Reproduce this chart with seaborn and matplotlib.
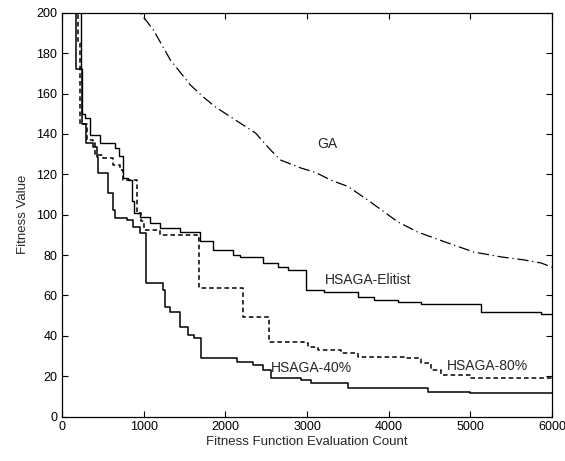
import matplotlib
matplotlib.use("Agg")
import matplotlib.pyplot as plt
import seaborn as sns
import pandas as pd

# GA curve (dash-dot)
ga_x = [900, 957, 1117, 1325, 1570, 1730, 1877, 2123, 2368, 2552, 2675, 2920, 3100, 3300,
        3500, 3742, 4110, 4356, 4724, 5043, 5374, 5656, 5865, 6000]
ga_y = [210, 200, 191.6, 176.7, 164.3, 158.3, 153.4, 146.9, 140.5, 132.1, 127.1, 123.2, 121,
        117, 114, 107.3, 96.5, 91.4, 86, 81.5, 79.1, 77.6, 76.1, 74]

# HSAGA-Elitist (solid, step)
el_x = [0, 230, 245, 282, 344, 466, 650, 700, 745, 810, 850, 875, 957, 1080, 1202, 1448,
        1693, 1853, 2098, 2184, 2466, 2638, 2761, 2982, 3202, 3620, 3816, 4110, 4393, 5129,
        5865, 6000]
el_y = [230, 172, 150, 148, 139.5, 135.5, 133, 129, 118, 117, 107, 101, 99, 96, 93.4, 91.5,
        87, 82.5, 80, 79, 76, 74, 72.6, 62.7, 61.5, 59.2, 57.7, 56.7, 55.8, 51.8, 51, 50.5]

# HSAGA-80% (dotted, step)
h80_x = [0, 200, 221, 307, 380, 405, 503, 626, 712, 748, 920, 960, 1000, 1202, 1656, 1680,
         2210, 2528, 2957, 3006, 3129, 3411, 3620, 4184, 4393, 4515, 4638, 5000, 6000]
h80_y = [230, 185, 145, 137, 135.5, 129.6, 128, 124.6, 122, 117, 100.6, 97, 92.4, 90, 88.4,
         63.7, 49.4, 36.9, 36.4, 34.5, 33, 31.4, 29.5, 29, 26.5, 23, 20.6, 19, 19]

# HSAGA-40% (solid, step)
h40_x = [0, 170, 240, 294, 380, 429, 442, 564, 626, 650, 798, 871, 957, 1030, 1239, 1264,
         1325, 1448, 1546, 1620, 1706, 2147, 2343, 2466, 2552, 2920, 3043, 3497, 4478, 5000,
         6000]
h40_y = [230, 172, 145, 135.5, 133.5, 128.6, 120.6, 110.7, 102.3, 98.3, 97.4, 94, 90.9, 66.2,
         62.7, 54.3, 51.8, 44.4, 40.4, 38.9, 29, 27, 25.5, 23, 19, 18, 16.6, 14.1, 12.1, 11.6,
         11.6]

sns.set_style("ticks")
plt.rcParams['font.family'] = ['Liberation Sans', 'DejaVu Sans']

fig = plt.figure(figsize=(5.65, 4.61), dpi=100)
ax = fig.add_axes([0.110, 0.0965, 0.867, 0.8755])

ga = pd.DataFrame({"x": ga_x, "y": ga_y})
el = pd.DataFrame({"x": el_x, "y": el_y})
h80 = pd.DataFrame({"x": h80_x, "y": h80_y})
h40 = pd.DataFrame({"x": h40_x, "y": h40_y})

sns.lineplot(data=ga, x="x", y="y", ax=ax, color="black", lw=0.9,
             linestyle=(0, (9, 3, 1, 3)), estimator=None, sort=False)
sns.lineplot(data=el, x="x", y="y", ax=ax, color="black", lw=1.0,
             drawstyle="steps-post", estimator=None, sort=False)
sns.lineplot(data=h80, x="x", y="y", ax=ax, color="black", lw=1.1,
             linestyle=(0, (3, 2)), drawstyle="steps-post", estimator=None, sort=False)
sns.lineplot(data=h40, x="x", y="y", ax=ax, color="black", lw=1.1,
             drawstyle="steps-post", estimator=None, sort=False)

ax.text(3130, 135, "GA", fontsize=10, va="center")
ax.text(3215, 67.5, "HSAGA-Elitist", fontsize=10, va="center")
ax.text(4711, 25, "HSAGA-80%", fontsize=10, va="center")
ax.text(2552, 24, "HSAGA-40%", fontsize=10, va="center")

ax.set_xlim(0, 6000)
ax.set_ylim(0, 200)
ax.set_xticks(range(0, 6001, 1000))
ax.set_yticks(range(0, 201, 20))
ax.tick_params(direction="in", top=True, right=True, length=4, width=0.8,
               labelsize=9, colors="black")
for s in ax.spines.values():
    s.set_linewidth(0.9)
    s.set_color("black")
ax.set_xlabel("Fitness Function Evaluation Count", fontsize=9.5, labelpad=2)
ax.set_ylabel("Fitness Value", fontsize=9.5, labelpad=5)

fig.savefig("out.png", dpi=100)
